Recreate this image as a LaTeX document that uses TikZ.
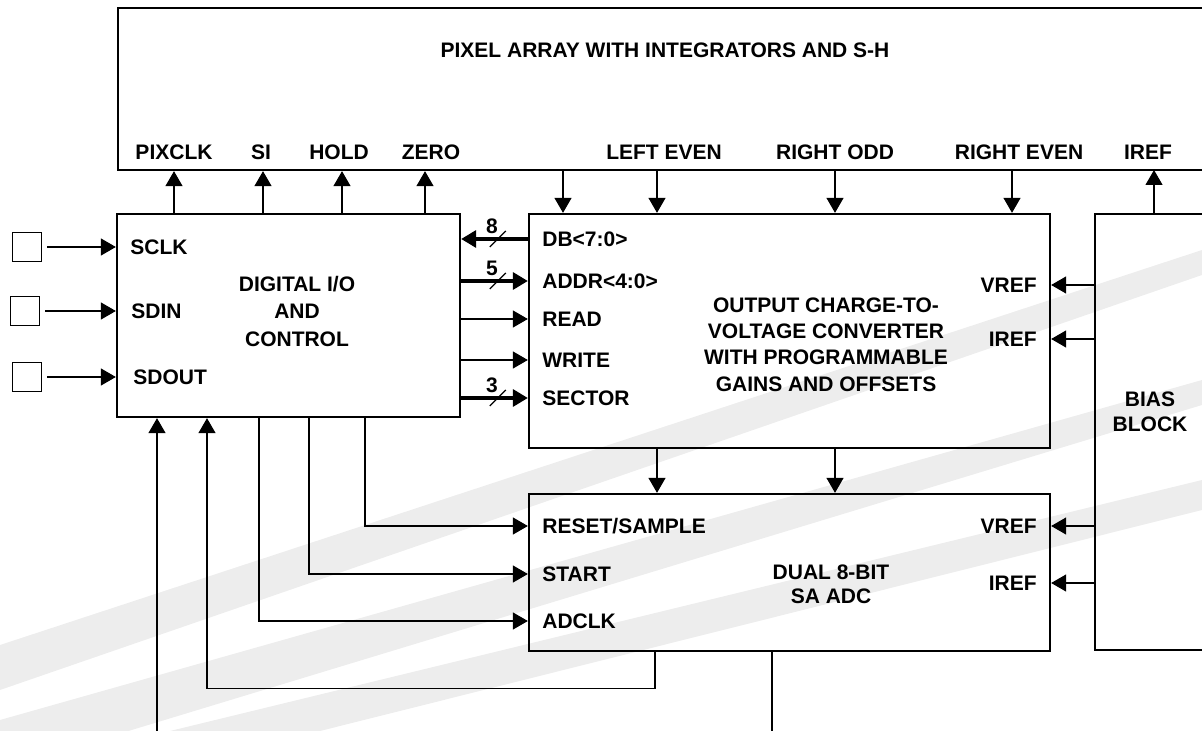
\documentclass[tikz,border=0pt]{standalone}
\usepackage{fontspec}
\setmainfont{Liberation Sans}
\usetikzlibrary{arrows.meta,decorations.markings}

\begin{document}
\begin{tikzpicture}[x=0.5pt,y=-0.5pt,font=\fontsize{10.5}{13}\selectfont\bfseries]
    \tikzset{
        >={Triangle[length=7.5pt,width=8.5pt]},
        block/.style={draw,line width=1.15pt,inner sep=0pt},
        wire/.style={line width=0.6pt},
        sig/.style={inner sep=0pt},
        bus/.style={
            line width=1.6pt,
            postaction={decorate},
            decoration={
                markings,
                mark=at position 0.55 with {
                    \draw[line width=0.6pt,-] (-4pt,-4pt) -- (4pt,4pt);
                    \node[sig] at (-3pt,6.5pt) {#1};
                }
            }
        },
        pad/.style={draw,line width=0.6pt,minimum size=14.5pt,inner sep=0pt},
        stripe/.style={fill=black!7,draw=none}
    }

    \useasboundingbox (0,0) rectangle (1202,731);
    \clip (0,0) rectangle (1202,731);

    % background stripes
    \fill[stripe] (0,645) -- (1202,250) -- (1202,275) -- (0,690) -- cycle;
    \fill[stripe] (0,720) -- (1202,380) -- (1202,405) -- (0,770) -- cycle;
    \fill[stripe] (170,731) -- (1202,480) -- (1202,510) -- (320,731) -- cycle;

    % blocks
    \node[block,minimum width=556pt,minimum height=81pt] (pix) at (674,89) {};
    \node[block,minimum width=171.5pt,minimum height=101.5pt] (dig) at (288.5,315.5) {};
    \node[block,minimum width=260.5pt,minimum height=117pt] (cv) at (789.5,331) {};
    \node[block,minimum width=260.5pt,minimum height=78.5pt] (adc) at (789.5,572.5) {};
    \node[block,minimum width=67.5pt,minimum height=218pt] (bias) at (1162.5,432) {};

    \node (title) at (665,50) {PIXEL ARRAY WITH INTEGRATORS AND S-H};
    \node[align=center,font=\fontsize{10.5}{13.75}\selectfont\bfseries] (digtxt) at (297,311) {DIGITAL I/O\\AND\\CONTROL};
    \node[align=center,font=\fontsize{10.5}{13.15}\selectfont\bfseries] (cvtxt) at (826,344.5) {OUTPUT CHARGE-TO-\\VOLTAGE CONVERTER\\WITH PROGRAMMABLE\\GAINS AND OFFSETS};
    \node[align=center,font=\fontsize{10.5}{12}\selectfont\bfseries] (adctxt) at (831,584) {DUAL 8-BIT\\SA ADC};
    \node[align=center,font=\fontsize{10.5}{12.5}\selectfont\bfseries] (biastxt) at (1150,412) {BIAS\\BLOCK};

    % pixel array pins
    \node[sig] (pixclk) at (174,152) {PIXCLK};
    \node[sig] (si) at (261,152) {SI};
    \node[sig] (hold) at (339,152) {HOLD};
    \node[sig] (zero) at (431,152) {ZERO};
    \node[sig] (leven) at (664,152) {LEFT EVEN};
    \node[sig] (rodd) at (835,152) {RIGHT ODD};
    \node[sig] (reven) at (1019,152) {RIGHT EVEN};
    \node[sig] (piref) at (1148,152) {IREF};
    \coordinate (t1) at (563,170);
    \coordinate (t2) at (657,170);
    \coordinate (t3) at (835,170);
    \coordinate (t4) at (1012,170);
    \coordinate (t5) at (1154,170);

    % serial pads
    \node[pad] (sclkpad) at (27,247) {};
    \node[pad] (sdinpad) at (25,311) {};
    \node[pad] (sdoutpad) at (27,377) {};
    \node[sig,anchor=west] (sclk) at (130,247) {SCLK};
    \node[sig,anchor=west] (sdin) at (131,311) {SDIN};
    \node[sig,anchor=west] (sdout) at (133,377) {SDOUT};

    % converter pins
    \node[sig,anchor=west] (db) at (542,239) {DB<7:0>};
    \node[sig,anchor=west] (addr) at (542,281) {ADDR<4:0>};
    \node[sig,anchor=west] (read) at (542,319) {READ};
    \node[sig,anchor=west] (write) at (542,360) {WRITE};
    \node[sig,anchor=west] (sector) at (542,398) {SECTOR};
    \node[sig,anchor=east] (cvvref) at (1037,285) {VREF};
    \node[sig,anchor=east] (cviref) at (1037,339) {IREF};

    % adc pins
    \node[sig,anchor=west] (rst) at (542,526) {RESET/SAMPLE};
    \node[sig,anchor=west] (start) at (542,574) {START};
    \node[sig,anchor=west] (adclk) at (542,621) {ADCLK};
    \node[sig,anchor=east] (adcvref) at (1037,526) {VREF};
    \node[sig,anchor=east] (adciref) at (1037,583) {IREF};

    \coordinate (inb) at (157,735);
    \coordinate (outb) at (772,735);

    \draw[wire,->] (pixclk |- dig.north) -- (pixclk |- pix.south);
    \draw[wire,->] ([xshift=1pt]si.south |- dig.north) -- ([xshift=1pt]si.south |- pix.south);
    \draw[wire,->] ([xshift=1.5pt]hold.south |- dig.north) -- ([xshift=1.5pt]hold.south |- pix.south);
    \draw[wire,->] ([xshift=-3pt]zero.south |- dig.north) -- ([xshift=-3pt]zero.south |- pix.south);
    \draw[wire,->] (t1) -- (t1 |- cv.north);
    \draw[wire,->] (t2) -- (t2 |- cv.north);
    \draw[wire,->] (t3) -- (t3 |- cv.north);
    \draw[wire,->] (t4) -- (t4 |- cv.north);
    \draw[wire,->] (t5 |- bias.north) -- (t5);

    \draw[wire,->,shorten <=2.5pt] (sclkpad.east) -- (sclkpad -| dig.west);
    \draw[wire,->,shorten <=2.5pt] (sdinpad.east) -- (sdinpad -| dig.west);
    \draw[wire,->,shorten <=2.5pt] (sdoutpad.east) -- (sdoutpad -| dig.west);

    \draw[bus=8,<-] (dig.east |- db) -- (cv.west |- db);
    \draw[bus=5,->] (dig.east |- addr) -- (cv.west |- addr);
    \draw[wire,->] (dig.east |- read) -- (cv.west |- read);
    \draw[wire,->] (dig.east |- write) -- (cv.west |- write);
    \draw[bus=3,->] (dig.east |- sector) -- (cv.west |- sector);

    \draw[wire,->] (bias.west |- cvvref) -- (cv.east |- cvvref);
    \draw[wire,->] (bias.west |- cviref) -- (cv.east |- cviref);
    \draw[wire,->] (bias.west |- adcvref) -- (adc.east |- adcvref);
    \draw[wire,->] (bias.west |- adciref) -- (adc.east |- adciref);

    \draw[wire,->] (t2 |- cv.south) -- (t2 |- adc.north);
    \draw[wire,->] (t3 |- cv.south) -- (t3 |- adc.north);

    \draw[wire,->] ([xshift=38.25pt]dig.south) |- (rst -| adc.west);
    \draw[wire,->] ([xshift=10.25pt]dig.south) |- (start -| adc.west);
    \draw[wire,->] ([xshift=-14.75pt]dig.south) |- (adclk -| adc.west);
    \draw[wire,->] ([xshift=-67.25pt]adc.south) -- ++(0,36) -| ([xshift=-40.75pt]dig.south);
    \draw[wire] ([xshift=-8.75pt]adc.south) -- (outb);
    \draw[wire,->] (inb) -- (inb |- dig.south);
\end{tikzpicture}
\end{document}
